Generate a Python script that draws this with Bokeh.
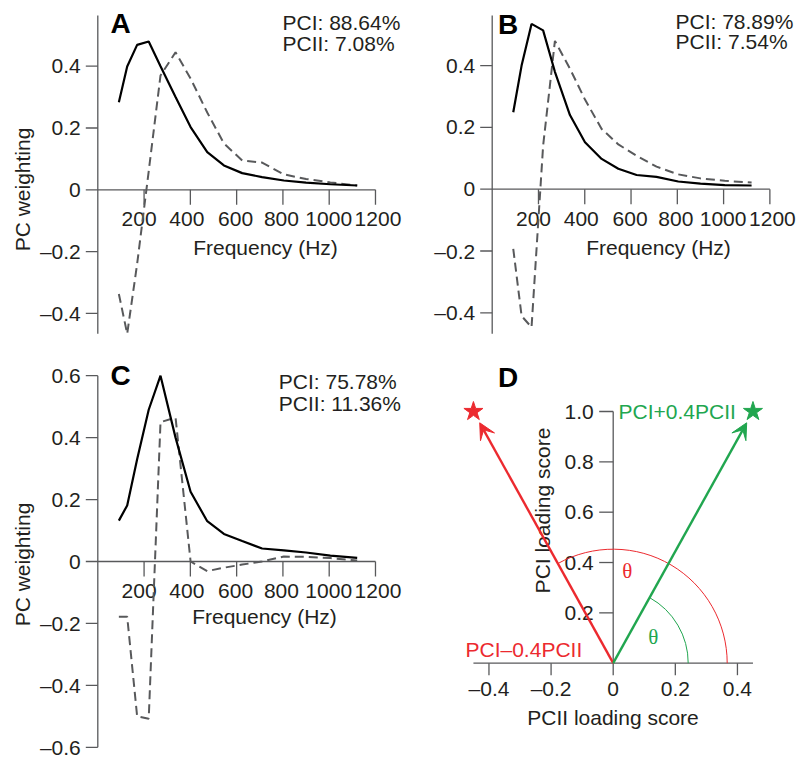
from math import atan2, pi
from bokeh.plotting import figure
from bokeh.layouts import row, column
from bokeh.models import Range1d, Arrow, VeeHead
from bokeh.core.properties import value
from bokeh.embed import file_html
from bokeh.resources import INLINE

# ---------------- data ----------------
freq = [91, 127, 170, 220, 271, 336, 401, 473, 545, 624, 710, 804, 900, 1005, 1121]

a_pc1 = [0.283, 0.399, 0.469, 0.480, 0.400, 0.300, 0.203, 0.122, 0.079, 0.054, 0.041, 0.030, 0.023, 0.018, 0.014]
a_pc2 = [-0.337, -0.466, -0.240, 0.060, 0.370, 0.445, 0.360, 0.250, 0.150, 0.095, 0.088, 0.050, 0.035, 0.024, 0.014]

b_pc1 = [0.249, 0.400, 0.535, 0.514, 0.380, 0.240, 0.152, 0.098, 0.066, 0.046, 0.040, 0.025, 0.018, 0.013, 0.012]
b_pc2 = [-0.193, -0.410, -0.447, 0.140, 0.480, 0.390, 0.290, 0.195, 0.145, 0.108, 0.073, 0.048, 0.035, 0.027, 0.022]

c_pc1 = [0.132, 0.181, 0.330, 0.490, 0.600, 0.400, 0.225, 0.130, 0.089, 0.066, 0.042, 0.036, 0.029, 0.019, 0.012]
c_pc2 = [-0.178, -0.178, -0.500, -0.508, 0.450, 0.465, 0.000, -0.031, -0.020, -0.010, 0.000, 0.016, 0.015, 0.011, 0.003]

pct_a = ["PCI: 88.64%", "PCII: 7.08%"]
pct_b = ["PCI: 78.89%", "PCII: 7.54%"]
pct_c = ["PCI: 75.78%", "PCII: 11.36%"]

freq_ticks = [200, 400, 600, 800, 1000, 1200]
freq_tick_labels = ["200", "400", "600", "800", "1000", "1200"]
ab_yticks = [-0.4, -0.2, 0.0, 0.2, 0.4]
ab_ytick_labels = ["\u20130.4", "\u20130.2", "0", "0.2", "0.4"]
c_yticks = [-0.6, -0.4, -0.2, 0.0, 0.2, 0.4, 0.6]
c_ytick_labels = ["\u20130.6", "\u20130.4", "\u20130.2", "0", "0.2", "0.4", "0.6"]

d_pc2 = [-0.45, 0.45]
d_pc1 = [1.0, 1.0]
d_names = ["PCI\u20130.4PCII", "PCI+0.4PCII"]
d_xticks = [-0.4, -0.2, 0.0, 0.2, 0.4]
d_xtick_labels = ["\u20130.4", "\u20130.2", "0", "0.2", "0.4"]
d_yticks = [0.2, 0.4, 0.6, 0.8, 1.0]
d_ytick_labels = ["0.2", "0.4", "0.6", "0.8", "1.0"]

# ---------------- style ----------------
FONT = value("Liberation Sans")
SERIF = value("Liberation Serif")
INK = "#231f20"
AX = "#58595b"
DASH = "#58595b"
RED = "#ec2a2f"
GREEN = "#21a64f"
FS = "21px"
# small pixel nudges of the frequency tick labels (as laid out in the original)
freq_label_nudge = [-5, -3.5, -1, -1.5, -0.5, 2.5]


class Geo:
    def __init__(self, left, top, w, h, x0, xs, y0, ys):
        self.left, self.top, self.w, self.h = left, top, w, h
        self.x0, self.xs, self.y0, self.ys = x0, xs, y0, ys

    def dx(self, px):
        return (px - self.x0) / self.xs

    def dy(self, py):
        return (self.y0 - py) / self.ys


def make_fig(G):
    p = figure(width=G.w, height=G.h,
               x_range=Range1d(G.dx(G.left), G.dx(G.left + G.w)),
               y_range=Range1d(G.dy(G.top + G.h), G.dy(G.top)),
               x_axis_location=None, y_axis_location=None,
               toolbar_location=None, output_backend="svg", min_border=0)
    p.min_border_left = p.min_border_right = p.min_border_top = p.min_border_bottom = 0
    p.outline_line_color = None
    p.grid.visible = False
    p.background_fill_color = "white"
    p.border_fill_color = "white"
    return p


def put(p, G, px, py, s, size=FS, align="center", baseline="middle", color=INK,
        angle=0.0, style="normal", font=FONT):
    p.text(x=[G.dx(px)], y=[G.dy(py)], text=[s], text_font=font, text_font_size=size,
           text_align=align, text_baseline=baseline, text_color=color, angle=angle,
           text_font_style=style)


def line_panel(G, pc1, pc2, yticks, ylabels, y_ext, letter, letter_xy, pct, pct_x, pct_y,
               ylab_xy, xlab_xy):
    p = make_fig(G)
    # axes
    p.segment(x0=[0, 0], y0=[y_ext[0], 0], x1=[0, 1200], y1=[y_ext[1], 0],
              line_color=AX, line_width=1.3)
    n = len(yticks)
    p.segment(x0=[0] * n, y0=yticks, x1=[G.dx(G.x0 - 12)] * n, y1=yticks,
              line_color=AX, line_width=1.3)
    m = len(freq_ticks)
    p.segment(x0=freq_ticks, y0=[0] * m, x1=freq_ticks, y1=[G.dy(G.y0 + 15)] * m,
              line_color=AX, line_width=1.3)
    p.text(x=[G.dx(G.x0 - 17)] * n, y=yticks, text=ylabels, text_font=FONT,
           text_font_size=FS, text_align="right", text_baseline="middle", text_color=INK)
    lx = [t + d / G.xs for t, d in zip(freq_ticks, freq_label_nudge)]
    p.text(x=lx, y=[G.dy(G.y0 + 29.4)] * m, text=freq_tick_labels, text_font=FONT,
           text_font_size=FS, text_align="center", text_baseline="middle", text_color=INK)
    # series
    p.line(freq, pc2, line_color=DASH, line_width=2, line_dash="9 5")
    p.line(freq, pc1, line_color="black", line_width=2.2)
    # texts
    put(p, G, letter_xy[0], letter_xy[1], letter, size="28px", style="bold", color="black")
    put(p, G, pct_x, pct_y[0], pct[0], align="left")
    put(p, G, pct_x, pct_y[1], pct[1], align="left")
    if ylab_xy is not None:
        put(p, G, ylab_xy[0], ylab_xy[1], "PC weighting", angle=pi / 2)
    put(p, G, xlab_xy[0], xlab_xy[1], "Frequency (Hz)")
    return p


GA = Geo(0, 0, 405, 355, 97.3, 0.2314, 189.3, 309.0)
GB = Geo(405, 0, 396, 355, 491.7, 0.2314, 188.7, 309.0)
GC = Geo(0, 355, 405, 403, 97.3, 0.2314, 561.0, 309.7)
GD = Geo(405, 355, 396, 403, 612.7, 310.6, 662.7, 251.7)

pA = line_panel(GA, a_pc1, a_pc2, ab_yticks, ab_ytick_labels, (-0.466, 0.564), "A", (120, 23),
                pct_a, 282, (21.7, 43.3), (22, 189), (265, 246.7))
pB = line_panel(GB, b_pc1, b_pc2, ab_yticks, ab_ytick_labels, (-0.468, 0.562), "B", (507.5, 24),
                pct_b, 675, (21, 40.5), None, (658, 246.7))
pC = line_panel(GC, c_pc1, c_pc2, c_yticks, c_ytick_labels, (-0.6, 0.6), "C", (120, 375),
                pct_c, 278.3, (381, 402.5), (22, 564), (264, 616))

# ---------------- panel D ----------------
G = GD
pD = make_fig(G)
nx, ny = len(d_xticks), len(d_yticks)
pD.segment(x0=[d_xticks[0] - 0.05, 0], y0=[0, 0], x1=[d_xticks[-1] + 0.05, 0], y1=[0, d_yticks[-1]],
           line_color=AX, line_width=1.3)
pD.segment(x0=d_xticks, y0=[0] * nx, x1=d_xticks, y1=[G.dy(G.y0 + 12)] * nx,
           line_color=AX, line_width=1.3)
pD.segment(x0=[0] * ny, y0=d_yticks, x1=[G.dx(G.x0 - 14)] * ny, y1=d_yticks,
           line_color=AX, line_width=1.3)
pD.text(x=d_xticks, y=[G.dy(G.y0 + 25.6)] * nx, text=d_xtick_labels, text_font=FONT,
        text_font_size=FS, text_align="center", text_baseline="middle", text_color=INK)
pD.text(x=[G.dx(G.x0 - 19.4)] * ny, y=d_yticks, text=d_ytick_labels, text_font=FONT,
        text_font_size=FS, text_align="right", text_baseline="middle", text_color=INK)
put(pD, G, 541.7, 510, "PCI loading score", angle=pi / 2)
put(pD, G, 612.5, 716.7, "PCII loading score")
put(pD, G, 507.5, 376.7, "D", size="28px", style="bold", color="black")

# angle arcs (screen-space angles of the two vectors)
ang_g = atan2(d_pc1[1] * G.ys, d_pc2[1] * G.xs)
ang_r = atan2(d_pc1[0] * G.ys, d_pc2[0] * G.xs)
pD.arc(x=[0], y=[0], radius=114, radius_units="screen", start_angle=0, end_angle=ang_r,
       direction="anticlock", line_color=RED, line_width=1)
pD.arc(x=[0], y=[0], radius=75, radius_units="screen", start_angle=0, end_angle=ang_g,
       direction="anticlock", line_color=GREEN, line_width=1)
put(pD, G, 626.7, 570, "\u03b8", size="21px", color=RED, font=SERIF)
put(pD, G, 652.7, 636.7, "\u03b8", size="21px", color=GREEN, font=SERIF)

colors = [RED, GREEN]
for i in range(2):
    c = colors[i]
    pD.add_layout(Arrow(end=VeeHead(size=16, fill_color=c, line_color=c, line_width=1),
                        x_start=0, y_start=0, x_end=d_pc2[i] * 0.955, y_end=d_pc1[i] * 0.955,
                        line_color=c, line_width=2.4))
pD.scatter(d_pc2, d_pc1, marker="star", size=20, fill_color=colors, line_color=colors)
put(pD, G, 465, 649.3, d_names[0], color=RED, align="left")
put(pD, G, 618, 411, d_names[1], color=GREEN, align="left")

layout = column(row(pA, pB), row(pC, pD))
open("out.html", "w").write(file_html(layout, INLINE))
